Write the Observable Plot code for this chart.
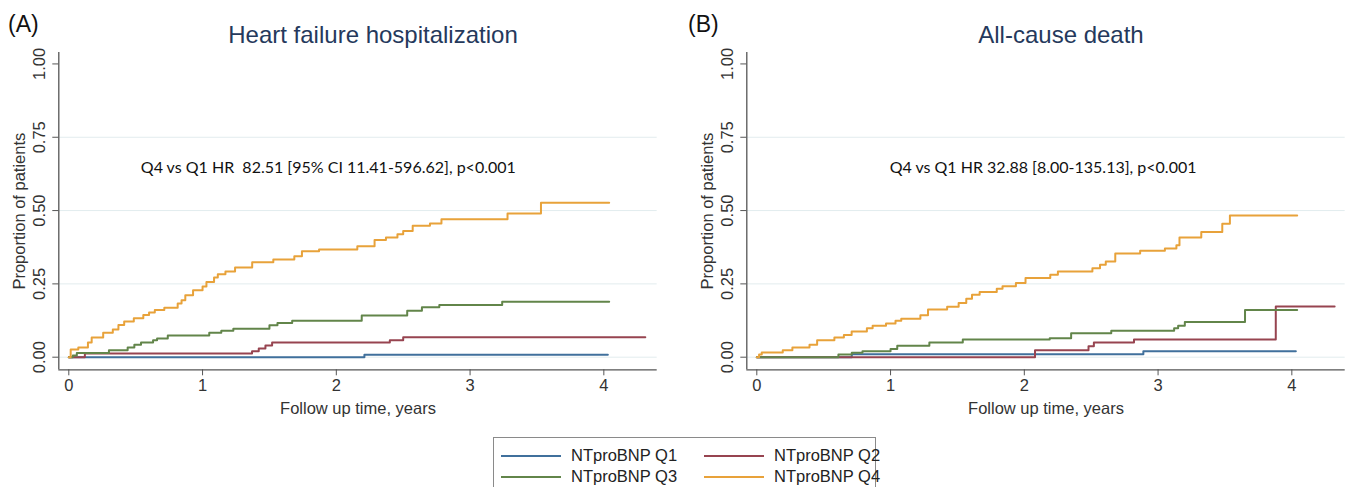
<!DOCTYPE html>
<html>
<head>
<meta charset="utf-8">
<script src="https://cdn.jsdelivr.net/npm/d3@7"></script>
<script src="https://cdn.jsdelivr.net/npm/@observablehq/plot@0.6"></script>
<style>
  html, body { margin: 0; padding: 0; background: #fff; }
  body { width: 1346px; height: 487px; overflow: hidden; position: relative; font-family: "Liberation Sans", Arial, sans-serif; }
  .abs { position: absolute; white-space: nowrap; }
  .chart { width: 680px; height: 420px; }
  .chart svg { max-width: none !important; }
  .panel-letter { font-size: 23px; color: #111; }
  .panel-title { font-size: 24px; color: #25395c; transform: translateX(-50%); }
  #legend { position: absolute; left: 493px; top: 437px; width: 383px; height: 70px; border: 1px solid #8a8a8a; box-sizing: border-box; }
  .leg { position: absolute; display: flex; align-items: center; font-size: 16.5px; color: #222; white-space: nowrap; }
  .leg .sw { display: block; flex: 0 0 60px; width: 60px; height: 2px; margin-right: 10px; }
</style>
</head>
<body>
<div id="chartA" class="abs chart" style="left:0;top:0"></div>
<div id="chartB" class="abs chart" style="left:687.7px;top:0"></div>
<div class="abs panel-letter" style="left:8px;top:11px">(A)</div>
<div class="abs panel-letter" style="left:688px;top:11px">(B)</div>
<div class="abs panel-title" id="titleA" style="left:373px;top:21px"></div>
<div class="abs panel-title" id="titleB" style="left:1061px;top:21px"></div>
<div id="legend"></div>
<script>
// ---- text ----
const panelTitles = ["Heart failure hospitalization", "All-cause death"];
const annotations = ["Q4 vs Q1 HR  82.51 [95% CI 11.41-596.62], p<0.001", "Q4 vs Q1 HR 32.88 [8.00-135.13], p<0.001"];
const seriesNames = ["NTproBNP Q1", "NTproBNP Q2", "NTproBNP Q3", "NTproBNP Q4"];
const seriesColors = ["#40709c", "#974450", "#62854a", "#e8a23a"];
const xTicks = [0, 1, 2, 3, 4];
const yTicks = [0, 0.25, 0.5, 0.75, 1];
const gridValues = [0, 0.25, 0.5, 0.75];
const xLabel = "Follow up time, years";
const yLabel = "Proportion of patients";

// ---- (A) Heart failure hospitalization: [years, proportion] ----
const hfQ1 = [[0,0],[2.21,0.008],[4.03,0.008]];
const hfQ2 = [[0,0],[0.12,0.013],[1.37,0.02],[1.42,0.03],[1.47,0.04],[1.52,0.05],[2.4,0.058],[2.5,0.068],[4.31,0.068]];
const hfQ3 = [[0,0],[0.03,0.006],[0.06,0.014],[0.3,0.024],[0.44,0.033],[0.49,0.042],[0.54,0.05],[0.63,0.058],[0.66,0.064],[0.74,0.074],[1.05,0.083],[1.14,0.09],[1.23,0.097],[1.5,0.109],[1.56,0.117],[1.67,0.124],[2.19,0.142],[2.53,0.158],[2.64,0.17],[2.77,0.178],[3.24,0.189],[4.04,0.189]];
const hfQ4 = [[0,0],[0.014,0.026],[0.071,0.033],[0.143,0.05],[0.171,0.067],[0.257,0.083],[0.329,0.094],[0.371,0.11],[0.414,0.122],[0.486,0.133],[0.557,0.144],[0.6,0.152],[0.643,0.161],[0.714,0.169],[0.814,0.183],[0.843,0.194],[0.871,0.211],[0.929,0.228],[1.0,0.241],[1.029,0.256],[1.086,0.272],[1.114,0.283],[1.171,0.292],[1.243,0.306],[1.371,0.324],[1.529,0.333],[1.686,0.344],[1.743,0.361],[1.871,0.367],[2.157,0.378],[2.286,0.4],[2.371,0.408],[2.457,0.419],[2.5,0.43],[2.571,0.448],[2.7,0.456],[2.786,0.47],[3.28,0.49],[3.53,0.527],[4.04,0.527]];

// ---- (B) All-cause death ----
const deathQ1 = [[0,0],[0.71,0.01],[2.89,0.02],[4.03,0.02]];
const deathQ2 = [[0,0],[2.08,0.024],[2.48,0.037],[2.52,0.05],[2.82,0.06],[3.88,0.173],[4.32,0.173]];
const deathQ3 = [[0,0],[0.61,0.009],[0.71,0.015],[0.79,0.02],[1.0,0.028],[1.05,0.039],[1.29,0.05],[1.54,0.06],[2.19,0.065],[2.35,0.082],[2.65,0.09],[3.12,0.099],[3.15,0.107],[3.2,0.12],[3.65,0.161],[4.04,0.161]];
const deathQ4 = [[0,0],[0.017,0.009],[0.037,0.016],[0.194,0.024],[0.266,0.033],[0.394,0.042],[0.451,0.058],[0.58,0.067],[0.651,0.076],[0.709,0.088],[0.823,0.099],[0.866,0.107],[0.966,0.115],[1.037,0.124],[1.08,0.131],[1.223,0.143],[1.28,0.163],[1.423,0.172],[1.509,0.185],[1.566,0.199],[1.609,0.213],[1.666,0.222],[1.794,0.233],[1.837,0.242],[1.937,0.253],[2.009,0.27],[2.194,0.281],[2.251,0.292],[2.509,0.303],[2.566,0.315],[2.609,0.326],[2.68,0.354],[2.866,0.363],[3.051,0.371],[3.137,0.382],[3.16,0.408],[3.323,0.427],[3.48,0.455],[3.537,0.483],[4.04,0.483]];

// annotation anchor (data units)
const annotationPos = [[1.94, 0.645], [2.14, 0.645]];

// layout
const xDomain = [-0.0748, 4.399];
const yDomain = [-0.043, 1.039];

function toRows(series) {
  const rows = [];
  series.forEach((s, i) => s.forEach(([t, p]) => rows.push({t, p, q: seriesNames[i]})));
  return rows;
}

function panel(series, ann, annPos) {
  const rows = toRows(series);
  return Plot.plot({
    width: 680, height: 420,
    marginLeft: 58.3, marginRight: 23.3, marginTop: 52, marginBottom: 50.7,
    x: {domain: xDomain},
    y: {domain: yDomain},
    color: {domain: seriesNames, range: seriesColors},
    style: {fontFamily: "'Liberation Sans', Arial, sans-serif", fontSize: "16.5px", color: "#333", background: "transparent", overflow: "visible", maxWidth: "none"},
    marks: [
      Plot.ruleY(gridValues, {stroke: "#e2ecee", strokeWidth: 1}),
      Plot.ruleX([xDomain[0]], {stroke: "#555", strokeWidth: 1.3}),
      Plot.ruleY([yDomain[0]], {stroke: "#555", strokeWidth: 1.3}),
      Plot.axisX({ticks: xTicks, tickSize: 6, tickPadding: 3, stroke: "#555", tickFormat: d => String(d),
        label: xLabel, labelAnchor: "center", labelOffset: 44, labelArrow: "none", fill: "#333"}),
      Plot.axisY({ticks: yTicks, tickSize: 6, tickRotate: -90, tickPadding: 8, stroke: "#555", tickFormat: d3.format(".2f"),
        label: yLabel, labelAnchor: "center", labelOffset: 46, labelArrow: "none", fill: "#333"}),
      Plot.line(rows, {x: "t", y: "p", z: "q", stroke: "q", strokeWidth: 2, curve: "step-after"}),
      Plot.text([ann], {x: annPos[0], y: annPos[1], text: d => d, fontFamily: "Lato, 'Open Sans', sans-serif", fontSize: 16, fill: "#111"})
    ]
  });
}

document.getElementById("chartA").append(panel([hfQ1, hfQ2, hfQ3, hfQ4], annotations[0], annotationPos[0]));
document.getElementById("chartB").append(panel([deathQ1, deathQ2, deathQ3, deathQ4], annotations[1], annotationPos[1]));
document.getElementById("titleA").textContent = panelTitles[0];
document.getElementById("titleB").textContent = panelTitles[1];

// legend
const legend = document.getElementById("legend");
const legPos = [[7, 8], [210, 8], [7, 29], [210, 29]];
seriesNames.forEach((name, i) => {
  const d = document.createElement("div");
  d.className = "leg";
  d.style.left = legPos[i][0] + "px";
  d.style.top = legPos[i][1] + "px";
  const sw = document.createElement("span");
  sw.className = "sw";
  sw.style.background = seriesColors[i];
  const label = document.createElement("span");
  label.textContent = name;
  d.append(sw, label);
  legend.append(d);
});
</script>
</body>
</html>
